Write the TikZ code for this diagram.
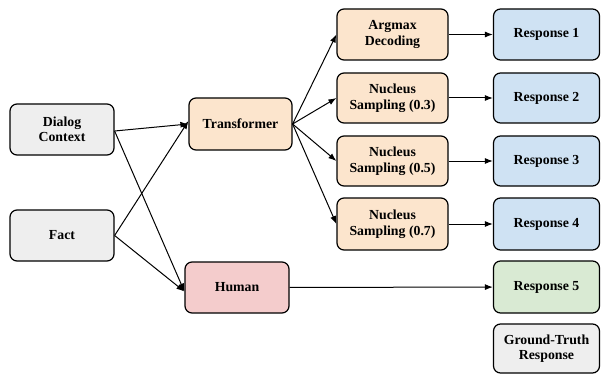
\documentclass[tikz,border=0pt]{standalone}
\usepackage{fontspec}
\setmainfont{Liberation Serif}
\usetikzlibrary{arrows.meta}
\definecolor{cgrey}{HTML}{EEEEEE}
\definecolor{corange}{HTML}{FCE5CD}
\definecolor{cblue}{HTML}{CFE2F3}
\definecolor{cgreen}{HTML}{D9EAD3}
\definecolor{cpink}{HTML}{F4CCCC}
\tikzset{
  box/.style={draw=black, line width=1.2pt, rounded corners=7pt, minimum width=#1, align=center,
    font=\bfseries\fontsize{13.8}{15.5}\selectfont, inner sep=0pt},
  box/.default=104pt,
  conn/.style={-{Latex[length=8pt,width=6pt]}, line width=1pt},
}
\begin{document}
\begin{tikzpicture}[x=1pt,y=-1pt]
\useasboundingbox (0,0) rectangle (601,374);
\node[box, fill=cgrey, minimum height=51pt] (dc) at (62,129.5) {Dialog\\Context};
\node[box, fill=cgrey, minimum height=51pt] (fact) at (62,235.5) {Fact};
\node[box=103pt, fill=corange, minimum height=52pt] (tr) at (240.5,124) {Transformer};
\node[box=104pt, fill=cpink, minimum height=51pt] (hu) at (237,287.5) {Human};
\node[box=111pt, fill=corange, minimum height=51pt] (ag) at (392.5,34.5) {Argmax\\Decoding};
\node[box=111pt, fill=corange, minimum height=50pt] (n3) at (392.5,98) {Nucleus\\Sampling (0.3)};
\node[box=111pt, fill=corange, minimum height=50pt] (n5) at (392.5,161) {Nucleus\\Sampling (0.5)};
\node[box=111pt, fill=corange, minimum height=52pt] (n7) at (392.5,224) {Nucleus\\Sampling (0.7)};
\node[box=106pt, fill=cblue, minimum height=51pt] (r1) at (546.5,34.5) {Response 1};
\node[box=106pt, fill=cblue, minimum height=50pt] (r2) at (546.5,98) {Response 2};
\node[box=106pt, fill=cblue, minimum height=50pt] (r3) at (546.5,161) {Response 3};
\node[box=106pt, fill=cblue, minimum height=52pt] (r4) at (546.5,224) {Response 4};
\node[box=106pt, fill=cgreen, minimum height=52pt] (r5) at (546.5,287) {Response 5};
\node[box=106pt, fill=cgrey, minimum height=49pt] (gt) at (546.5,348.5) {Ground-Truth\\Response};
\coordinate (dcout) at ([yshift=-1.5pt]dc.east);
\coordinate (huin) at ([yshift=-4pt]hu.west);
\draw[conn] (dcout) -- (tr.west);
\draw[conn] (dcout) -- (huin);
\draw[conn] (fact.east) -- ([yshift=3pt]tr.west);
\draw[conn] (fact.east) -- (huin);
\draw[conn] (tr.east) -- (ag.west);
\draw[conn] (tr.east) -- (n3.west);
\draw[conn] (tr.east) -- (n5.west);
\draw[conn] (tr.east) -- (n7.west);
\draw[conn] (ag) -- (r1);
\draw[conn] (n3) -- (r2);
\draw[conn] (n5) -- (r3);
\draw[conn] (n7) -- (r4);
\draw[conn] (hu) -- (r5);
\end{tikzpicture}
\end{document}
